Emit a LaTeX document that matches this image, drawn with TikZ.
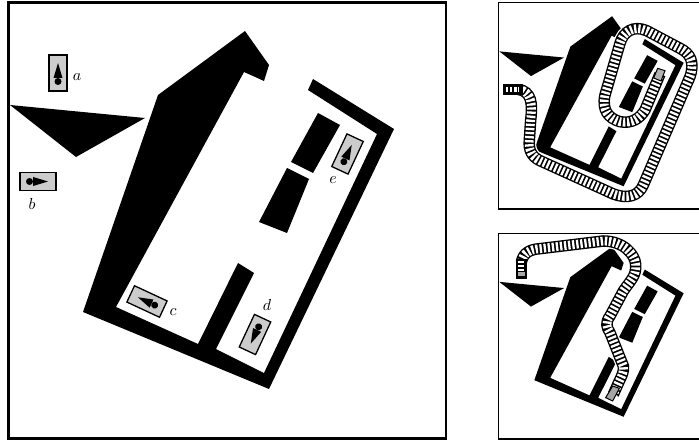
\documentclass[tikz,border=0pt]{standalone}
\newcommand{\plan}{%
  \fill[black] (158,95)--(245,31)--(269,65)--(264,81)--(244,72)--(116,307)--(198,344)--(238,263)--(254,273)--(216,349)--(264,373)--(377,134)--(308,90)--(313,79)--(394,129)--(269,389)--(83,312)--cycle;
  \fill[black] (318,113)--(340,125)--(313,173)--(291,162)--cycle;
  \fill[black] (287,168)--(309,179)--(287,233)--(259,222)--cycle;
  \fill[black] (10,105)--(145,118)--(76,157)--cycle;
}
\newcommand{\car}[4]{% centre x, y, angle, half length
  \begin{scope}[shift={(#1,#2)},rotate=#3]
    \filldraw[carbox] (-#4,-9)rectangle(#4,9);
    \fill[black] (-8.5,0) circle[radius=3.5];
    \fill[black] (-5,-4.5)--(10,0)--(-5,4.5)--cycle;
  \end{scope}}
\tikzset{
  carbox/.style={draw=black,fill=black!20,line width=1.3pt},
  frameline/.style={draw=black,line width=2.4pt},
  smallframe/.style={draw=black,line width=1.8pt},
  lab/.style={inner sep=0pt,scale=1.6},
  halo/.style={draw=white,line width=14pt},
  railbed/.style={draw=black,line width=11.5pt},
  ties/.style={draw=white,line width=8.8pt,dash pattern=on 2.3pt off 1.8pt},
}
\begin{document}
\begin{tikzpicture}[x=1pt,y=-1pt]
\useasboundingbox (0,0) rectangle (699,441);
\fill[white] (0,0) rectangle (699,441);
% main panel
\plan
\draw[frameline] (8.5,2.5) rectangle (446,438.5);
\car{58}{73}{90}{18}
\car{38}{181.5}{0}{18}
\car{147}{301.5}{155}{18}
\car{255}{334.5}{245}{18}
\car{347.5}{154}{65}{18}
\node[lab] (la) at (77,77) {$a$};
\node[lab] (lb) at (32,204) {$b$};
\node[lab] (lc) at (173,312) {$c$};
\node[lab] (ld) at (267,305) {$d$};
\node[lab] (le) at (333,180) {$e$};
% upper small panel
\begin{scope}[shift={(494.5,1.5)},xscale=.48,yscale=.475]
  \plan
\end{scope}
\draw[smallframe] (498.5,2.5) rectangle (702,209);
\begin{scope}[shift={(490,0)},scale=1/3]
  \def\trackA{(85,268) .. controls (125,275) and (128,310) .. (122,360)--(118,420) .. controls (115,450) and (125,470) .. (150,482)--(370,582) .. controls (410,597) and (445,590) .. (460,555)--(600,230) .. controls (615,185) and (600,160) .. (570,145)--(470,92) .. controls (430,75) and (400,95) .. (390,130)--(345,285) .. controls (335,330) and (355,355) .. (390,365) .. controls (425,372) and (450,355) .. (465,330)--(510,222)}
  \draw[halo] \trackA;
  \draw[railbed] \trackA;
  \draw[ties] \trackA;
  \filldraw[draw=black,fill=black!30,line width=1pt] (503,205)--(525,212)--(513,243)--(491,234)--cycle;
  \fill[black] (38,251) rectangle (98,286);
  \draw[white,line width=5pt,dash pattern=on 2.3pt off 1.8pt] (48,268.5)--(88,268.5);
\end{scope}
% lower small panel
\begin{scope}[shift={(494.5,232)},xscale=.48,yscale=.475]
  \plan
\end{scope}
\draw[smallframe] (498.5,233.5) rectangle (702,439);
\begin{scope}[shift={(490,226)},scale=1/3]
  \def\trackB{(94,108) .. controls (100,80) and (120,70) .. (150,68)--(340,45) .. controls (400,45) and (435,85) .. (437,115) .. controls (440,150) and (420,165) .. (400,195)--(360,270) .. controls (345,290) and (350,305) .. (360,320)--(400,420) .. controls (403,435) and (395,450) .. (388,465)--(370,505)}
  \draw[halo] \trackB;
  \draw[railbed] \trackB;
  \draw[ties] \trackB;
  \filldraw[draw=black,fill=black!35,line width=1pt] (368,480)--(388,487)--(368,525)--(347,515)--cycle;
  \fill[black] (77,100) rectangle (111,159);
  \draw[white,line width=6pt,dash pattern=on 2.3pt off 1.8pt] (94,136)--(94,106);
  \fill[black!35] (84,138) rectangle (104,150);
\end{scope}
\end{tikzpicture}
\end{document}
